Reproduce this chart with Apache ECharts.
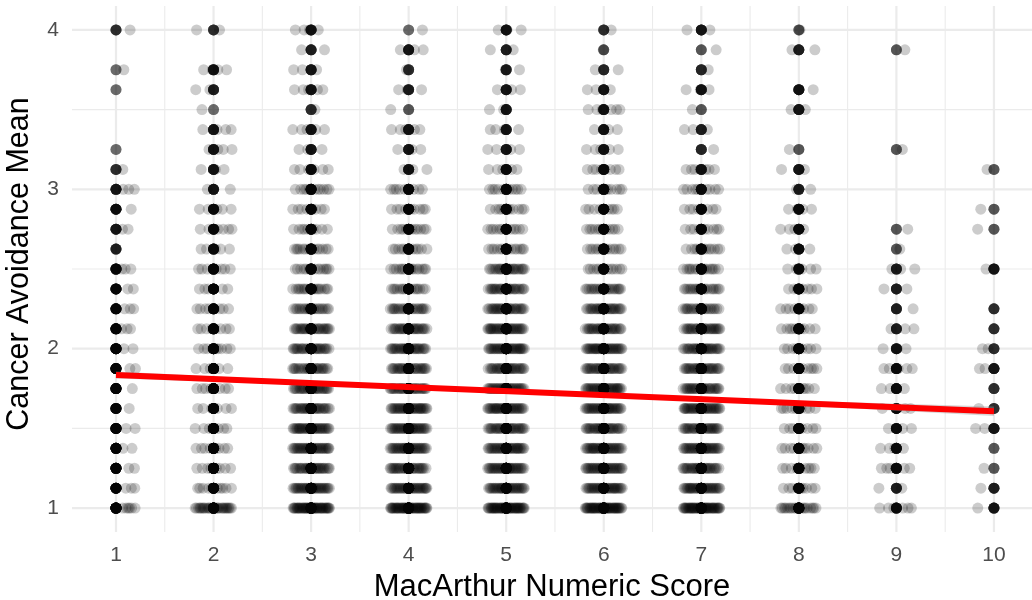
<!DOCTYPE html>
<html><head><meta charset="utf-8">
<script src="https://cdn.jsdelivr.net/npm/echarts@6/dist/echarts.min.js"></script>
<style>html,body{margin:0;padding:0;background:#fff}#c{width:1032px;height:600px}</style>
</head><body><div id="c"></div>
<script>
// ---- data ----
const scores = [1, 2, 3, 4, 5, 6, 7, 8, 9, 10];
const levels = [1, 1.125, 1.25, 1.375, 1.5, 1.625, 1.75, 1.875, 2, 2.125, 2.25, 2.375, 2.5,
                2.625, 2.75, 2.875, 3, 3.125, 3.25, 3.375, 3.5, 3.625, 3.75, 3.875, 4];
const xTickLabels = [1, 2, 3, 4, 5, 6, 7, 8, 9, 10];
const yTickLabels = [1, 2, 3, 4];
const xMinorLines = [1.5, 2.5, 3.5, 4.5, 5.5, 6.5, 7.5, 8.5, 9.5];
const yMinorLines = [1.5, 2.5, 3.5];

// counts of respondents at the exact integer score, per level (bottom -> top)
const center1  = [40,25,25,25,25,20,25,25,25,25,20,20,20,10,12,15,12, 8, 4, 0, 0, 4, 4, 0, 8];
const center2  = [40,30,30,30,30,25,25,25,25,25,20,20,20,15,15,15,12,12,12,12, 4,10,12, 0, 8];
const center3  = [60,50,50,50,50,50,50,40,40,40,35,30,25,25,20,20,20,15,12,12, 8,12,12,10,12];
const center4  = [60,50,50,50,50,50,50,40,40,40,35,30,30,25,20,20,18,12,12,12, 5,10, 8,12, 4];
const center5  = [60,50,50,50,50,50,50,45,45,40,40,35,35,25,20,20,18,15,12,12,12,12,10,10,12];
const center6  = [60,50,50,50,50,50,50,45,45,40,40,30,25,25,20,20,18,15,12,12,12,12, 9, 5, 8];
const center7  = [60,50,50,50,50,50,45,45,40,40,35,30,25,20,18,18,15,12, 9,10, 5,12, 9, 5,12];
const center8  = [40,25,25,25,25,25,25,25,25,25,20,20,15,15,15,15,10,12, 5, 0,12,12, 0,10, 5];
const center9  = [15,10,15,15,15,15,15,15,12,10,10,10,10, 5, 5, 0, 0, 0, 5, 0, 0, 0, 0, 5, 0];
const center10 = [12,10, 5, 5,12, 8, 8,12, 8, 8, 8, 0,12, 0, 5, 5, 0, 5, 0, 0, 0, 0, 0, 0, 0];
// counts of respondents with non-integer scores near each integer, per level
const spread1  = [ 6, 3, 2, 2, 2, 1, 1, 2, 2, 3, 3, 2, 3, 0, 2, 1, 3, 1, 0, 0, 0, 0, 1, 0, 1];
const spread2  = [30,10, 8, 8, 7, 6, 7, 6, 9, 8, 8, 6, 8, 5, 7, 5, 2, 3, 4, 4, 1, 2, 4, 0, 2];
const spread3  = [50,35,30,35,35,30,30,25,28,28,22,18,14,14, 9, 8,11, 6, 3, 5, 1, 5, 3, 2, 4];
const spread4  = [50,35,30,35,35,35,30,28,30,28,24,16,16,12,12,10, 9, 3, 3, 5, 1, 3, 1, 3, 1];
const spread5  = [50,35,35,35,30,35,35,30,35,35,30,28,25,14,12,11,11, 5, 4, 4, 2, 3, 2, 2, 3];
const spread6  = [50,35,35,35,30,35,35,30,35,30,28,22,12,13,12, 9,10, 8, 5, 4, 6, 3, 2, 1, 1];
const spread7  = [50,35,30,35,30,35,30,30,30,30,22,20,16,12, 9, 8,10, 7, 1, 3, 1, 3, 1, 1, 2];
const spread8  = [20, 9, 9,10, 8,10, 9, 9, 8, 9, 8, 7, 5, 3, 4, 4, 2, 2, 1, 0, 2, 2, 0, 2, 1];
const spread9  = [ 6, 2, 6, 4, 3, 4, 3, 5, 3, 3, 1, 2, 3, 1, 1, 0, 0, 0, 1, 0, 0, 0, 0, 1, 0];
const spread10 = [ 1, 1, 1, 0, 2, 1, 0, 2, 2, 0, 0, 0, 1, 0, 1, 1, 0, 1, 0, 0, 0, 0, 0, 0, 0];

// linear fit and its confidence band
const regX = [1, 10];
const regY = [1.835, 1.607];
const bandX = [1, 3, 5.5, 8, 10];
const bandLow = [1.813, 1.772, 1.714, 1.643, 1.577];
const bandHigh = [1.857, 1.796, 1.728, 1.673, 1.637];

// ---- build marks ----
const centers = [center1, center2, center3, center4, center5, center6, center7, center8, center9, center10];
const spreads = [spread1, spread2, spread3, spread4, spread5, spread6, spread7, spread8, spread9, spread10];
const pts = [];
scores.forEach((s, ci) => {
  let lo = -0.19, hi = 0.19;
  if (ci === 0) { lo = 0.05; hi = 0.2; }
  if (ci === scores.length - 1) { lo = -0.2; hi = -0.05; }
  levels.forEach((y, li) => {
    for (let k = 0; k < centers[ci][li]; k++) pts.push([s, y]);
    const n = spreads[ci][li];
    for (let k = 0; k < n; k++) {
      const u = ((0.5 + k * 0.618034 + li * 0.2137 + ci * 0.4142) % 1 + 1) % 1;
      pts.push([s + lo + (hi - lo) * u, y]);
    }
  });
});

const gridSpecs = [].concat(
  xMinorLines.map(v => ({ axis: 'x', v: v, w: 1.1 })),
  yMinorLines.map(v => ({ axis: 'y', v: v, w: 1.1 })),
  xTickLabels.map(v => ({ axis: 'x', v: v, w: 2.2 })),
  yTickLabels.map(v => ({ axis: 'y', v: v, w: 2.2 }))
);

const FONT = '"Liberation Sans", Arial, sans-serif';
const chart = echarts.init(document.getElementById('c'), null, { renderer: 'canvas' });
chart.setOption({
  animation: false,
  backgroundColor: '#fff',
  grid: { left: 72, right: 0, top: 6, bottom: 68, containLabel: false, outerBoundsMode: 'none' },
  xAxis: {
    type: 'value', min: 0.549, max: 10.39,
    name: 'MacArthur Numeric Score', nameLocation: 'middle', nameGap: 40,
    nameTextStyle: { fontSize: 31, color: '#000', fontFamily: FONT },
    axisLine: { show: false }, axisTick: { show: false }, splitLine: { show: false },
    axisLabel: { customValues: xTickLabels, fontSize: 21, color: '#4D4D4D', margin: 13, fontFamily: FONT }
  },
  yAxis: {
    type: 'value', min: 0.85, max: 4.15,
    name: 'Cancer Avoidance Mean', nameLocation: 'middle', nameGap: 37,
    nameTextStyle: { fontSize: 30.5, color: '#000', fontFamily: FONT, padding: [0, 0, 0, 10] },
    axisLine: { show: false }, axisTick: { show: false }, splitLine: { show: false },
    axisLabel: { customValues: yTickLabels, fontSize: 21, color: '#4D4D4D', margin: 13, fontFamily: FONT }
  },
  series: [
    {
      type: 'custom', z: 0, silent: true, clip: false,
      data: gridSpecs.map((g, i) => i),
      renderItem: function (params, api) {
        const g = gridSpecs[params.dataIndex];
        const cs = params.coordSys;
        let shape;
        if (g.axis === 'x') {
          const x = api.coord([g.v, 2])[0];
          shape = { x1: x, y1: cs.y, x2: x, y2: cs.y + cs.height };
        } else {
          const y = api.coord([2, g.v])[1];
          shape = { x1: cs.x, y1: y, x2: cs.x + cs.width, y2: y };
        }
        return { type: 'line', shape: shape, style: { stroke: '#EBEBEB', lineWidth: g.w } };
      }
    },
    {
      type: 'scatter', data: pts, symbolSize: 11, z: 2, silent: true,
      itemStyle: { color: '#000', opacity: 0.2, borderWidth: 0 }
    },
    {
      type: 'custom', z: 3, silent: true, data: [0],
      renderItem: function (params, api) {
        const p = [];
        bandX.forEach((x, i) => p.push(api.coord([x, bandHigh[i]])));
        for (let i = bandX.length - 1; i >= 0; i--) p.push(api.coord([bandX[i], bandLow[i]]));
        return { type: 'polygon', shape: { points: p }, style: { fill: 'rgba(153,153,153,0.4)' } };
      }
    },
    {
      type: 'line', z: 4, silent: true, symbol: 'none',
      data: regX.map((x, i) => [x, regY[i]]),
      lineStyle: { color: '#FF0000', width: 6, cap: 'butt' }
    }
  ]
});
</script></body></html>
